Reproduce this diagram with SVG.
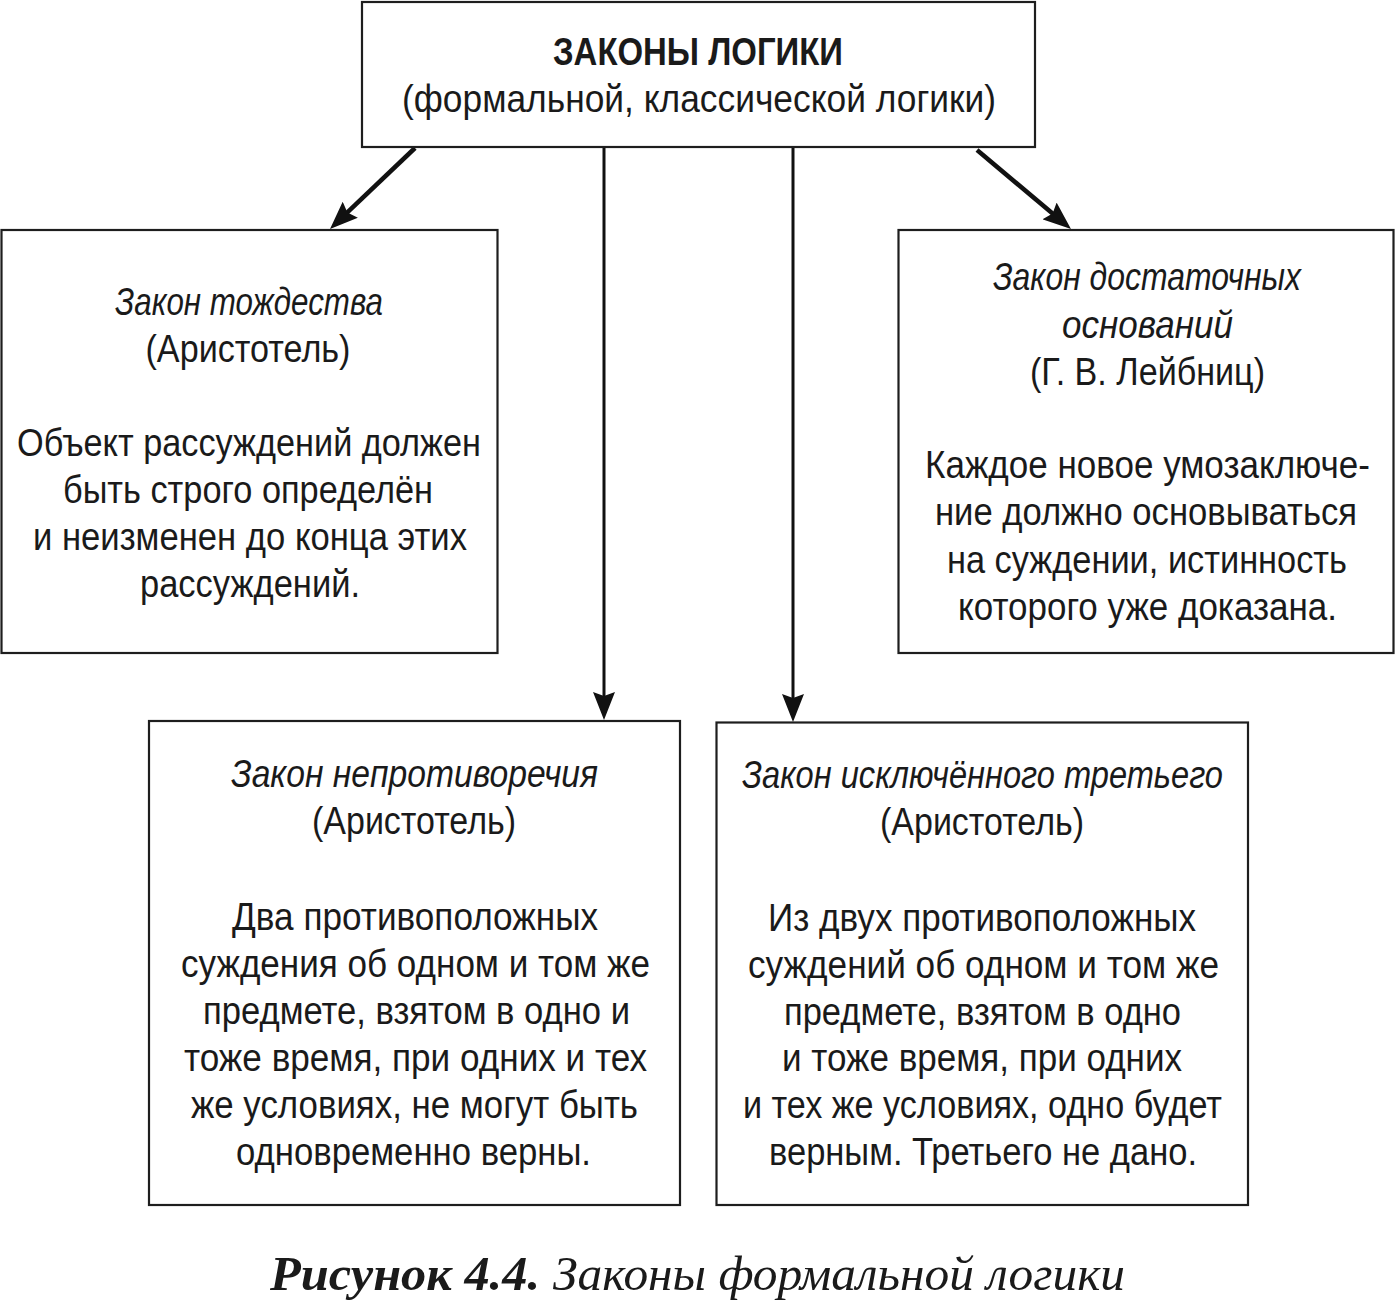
<svg xmlns="http://www.w3.org/2000/svg" width="1397" height="1304" viewBox="0 0 1397 1304">
<style>
.box{fill:#fff;stroke:#1e1e1e;stroke-width:2.2}
.t{font-family:"Liberation Sans",Arial,sans-serif;font-size:38px;fill:#1a1a1a;text-anchor:middle}
.i{font-style:italic}
.b{font-weight:bold}
.con{stroke:#111;fill:none}
.cap{font-family:"Liberation Serif","Times New Roman",serif;font-size:48px;fill:#1a1a1a;font-style:italic}
</style>
<defs>
<marker id="ah" markerUnits="userSpaceOnUse" markerWidth="28" markerHeight="22" refX="16" refY="11" orient="auto" viewBox="0 0 28 22">
<path d="M0,0 L28,11 L0,22 L4,11 z" fill="#111"/>
</marker>
</defs>
<rect width="1397" height="1304" fill="#fff"/>

<g id="connectors">
<line class="con" x1="415" y1="148" x2="338.7" y2="220.7" stroke-width="4.5" marker-end="url(#ah)"/>
<line class="con" x1="977" y1="150" x2="1061.8" y2="221.3" stroke-width="4.5" marker-end="url(#ah)"/>
<line class="con" x1="604" y1="147" x2="604" y2="708" stroke-width="3" marker-end="url(#ah)"/>
<line class="con" x1="793" y1="147" x2="793" y2="710" stroke-width="3" marker-end="url(#ah)"/>
</g>

<g id="node-top">
<rect class="box" x="362" y="2" width="673" height="145"/>
<text class="t b" x="698" y="65" textLength="290" lengthAdjust="spacingAndGlyphs">ЗАКОНЫ ЛОГИКИ</text>
<text class="t" x="699" y="112" textLength="594" lengthAdjust="spacingAndGlyphs">(формальной, классической логики)</text>
</g>

<g id="node-identity">
<rect class="box" x="1.5" y="230" width="496" height="423"/>
<text class="t i" x="249" y="315" textLength="268" lengthAdjust="spacingAndGlyphs">Закон тождества</text>
<text class="t" x="248" y="362" textLength="205" lengthAdjust="spacingAndGlyphs">(Аристотель)</text>
<text class="t" x="249" y="456" textLength="464" lengthAdjust="spacingAndGlyphs">Объект рассуждений должен</text>
<text class="t" x="248" y="503" textLength="370" lengthAdjust="spacingAndGlyphs">быть строго определён</text>
<text class="t" x="250" y="550" textLength="434" lengthAdjust="spacingAndGlyphs">и неизменен до конца этих</text>
<text class="t" x="250" y="597" textLength="220" lengthAdjust="spacingAndGlyphs">рассуждений.</text>
</g>

<g id="node-sufficient">
<rect class="box" x="898.5" y="230" width="495" height="423"/>
<text class="t i" x="1147" y="290" textLength="308" lengthAdjust="spacingAndGlyphs">Закон достаточных</text>
<text class="t i" x="1147.5" y="338" textLength="171" lengthAdjust="spacingAndGlyphs">оснований</text>
<text class="t" x="1147.5" y="385" textLength="235" lengthAdjust="spacingAndGlyphs">(Г. В. Лейбниц)</text>
<text class="t" x="1147.5" y="478" textLength="445" lengthAdjust="spacingAndGlyphs">Каждое новое умозаключе-</text>
<text class="t" x="1146" y="525" textLength="422" lengthAdjust="spacingAndGlyphs">ние должно основываться</text>
<text class="t" x="1147" y="573" textLength="400" lengthAdjust="spacingAndGlyphs">на суждении, истинность</text>
<text class="t" x="1147.5" y="620" textLength="379" lengthAdjust="spacingAndGlyphs">которого уже доказана.</text>
</g>

<g id="node-noncontradiction">
<rect class="box" x="149" y="721" width="531" height="484"/>
<text class="t i" x="414.5" y="787" textLength="367" lengthAdjust="spacingAndGlyphs">Закон непротиворечия</text>
<text class="t" x="414" y="834" textLength="204" lengthAdjust="spacingAndGlyphs">(Аристотель)</text>
<text class="t" x="415" y="930" textLength="366" lengthAdjust="spacingAndGlyphs">Два противоположных</text>
<text class="t" x="415.5" y="977" textLength="469" lengthAdjust="spacingAndGlyphs">суждения об одном и том же</text>
<text class="t" x="416.5" y="1024" textLength="427" lengthAdjust="spacingAndGlyphs">предмете, взятом в одно и</text>
<text class="t" x="415.5" y="1071" textLength="463" lengthAdjust="spacingAndGlyphs">тоже время, при одних и тех</text>
<text class="t" x="414.5" y="1118" textLength="447" lengthAdjust="spacingAndGlyphs">же условиях, не могут быть</text>
<text class="t" x="413.5" y="1165" textLength="355" lengthAdjust="spacingAndGlyphs">одновременно верны.</text>
</g>

<g id="node-excluded-middle">
<rect class="box" x="716.5" y="722.5" width="531.5" height="482.5"/>
<text class="t i" x="982.5" y="788" textLength="481" lengthAdjust="spacingAndGlyphs">Закон исключённого третьего</text>
<text class="t" x="982" y="835" textLength="204" lengthAdjust="spacingAndGlyphs">(Аристотель)</text>
<text class="t" x="982" y="931" textLength="428" lengthAdjust="spacingAndGlyphs">Из двух противоположных</text>
<text class="t" x="983.5" y="978" textLength="471" lengthAdjust="spacingAndGlyphs">суждений об одном и том же</text>
<text class="t" x="982.5" y="1025" textLength="397" lengthAdjust="spacingAndGlyphs">предмете, взятом в одно</text>
<text class="t" x="982" y="1071" textLength="400" lengthAdjust="spacingAndGlyphs">и тоже время, при одних</text>
<text class="t" x="982.5" y="1118" textLength="479" lengthAdjust="spacingAndGlyphs">и тех же условиях, одно будет</text>
<text class="t" x="983" y="1165" textLength="428" lengthAdjust="spacingAndGlyphs">верным. Третьего не дано.</text>
</g>

<g id="caption">
<text class="cap" x="270" y="1290" font-weight="bold" textLength="270" lengthAdjust="spacingAndGlyphs">Рисунок 4.4.</text>
<text class="cap" x="553" y="1290" textLength="572" lengthAdjust="spacingAndGlyphs">Законы формальной логики</text>
</g>
</svg>
